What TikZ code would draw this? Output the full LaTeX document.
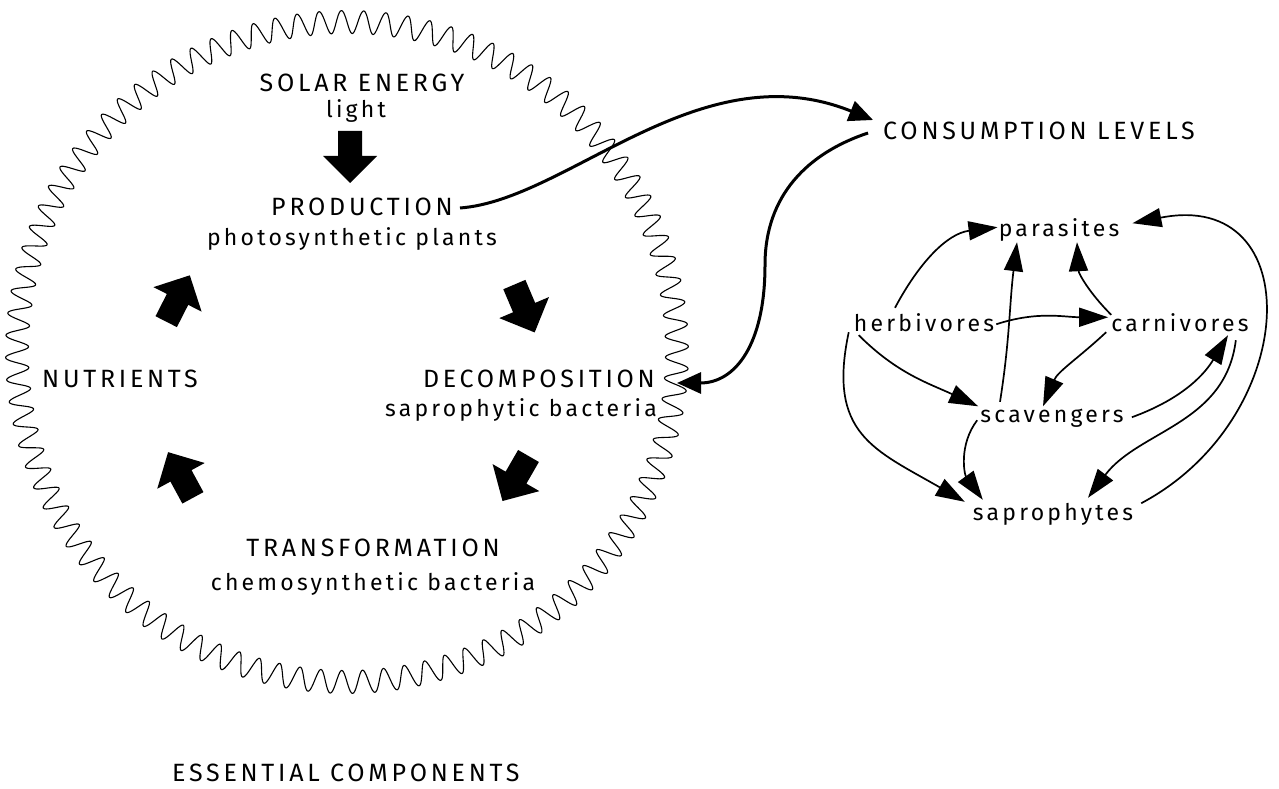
\documentclass[tikz,border=0pt]{standalone}
\usepackage{fontspec}
\setmainfont{Fira Sans}[LetterSpace=14]
\newfontfamily\capsf{Fira Sans}[LetterSpace=15]
\usetikzlibrary{arrows.meta}
\begin{document}
\begin{tikzpicture}[x=1pt,y=1pt,
  lbl/.style={font=\fontsize{23}{27}\selectfont, inner sep=0pt, text height=15.5pt, text depth=0pt, anchor=base},
  capl/.style={font=\capsf\fontsize{25}{30}\selectfont, inner sep=0pt, text height=16pt, text depth=0pt, anchor=base},
  wavyline/.style={line width=1.1pt, line join=round},
  bigarrow/.style={line width=3pt, -{Triangle[length=24pt,width=21pt]}},
  linkarrow/.style={line width=1.7pt, -{Triangle[length=29pt,width=19pt]}},
  blockarrow/.pic={\fill (-26,-12) -- (-1,-12) -- (-1,-27) -- (26,0) -- (-1,27) -- (-1,12) -- (-26,12) -- cycle;}
]
\useasboundingbox (0,0) rectangle (1279,788);
\fill[white] (0,0) rectangle (1279,788);

% wavy circle
\draw[wavyline] plot[domain=0:1920, samples=1921, variable=\k]
  ({347+(330+11.5*sin(18*mod(\k,20)))*cos(0.1875*\k)}, {436+(330+11.5*sin(18*mod(\k,20)))*sin(0.1875*\k)});

% left texts
\node[capl] (solar) at (362,696) {SOLAR ENERGY};
\node[lbl] (light) at (356,670) {light};
\node[capl] (prod)  at (362,572) {PRODUCTION};
\node[lbl] (photo) at (352,542) {photosynthetic plants};
\node[capl, anchor=base west] (nutr) at (42,400) {NUTRIENTS};
\node[capl, anchor=base east] (dec) at (655,400) {DECOMPOSITION};
\node[lbl, anchor=base east] (sapb) at (657,371) {saprophytic bacteria};
\node[capl] (trans) at (373,232) {TRANSFORMATION};
\node[lbl] (chemo) at (373,198) {chemosynthetic bacteria};
\node[capl, anchor=base west] (ess) at (172,7) {ESSENTIAL COMPONENTS};

% block arrows
\pic[rotate=-90] at (350,631) {blockarrow};
\pic[rotate=63] at (178,489.5) {blockarrow};
\pic[rotate=-67] at (524.5,479.5) {blockarrow};
\pic[rotate=118.5] at (180.5,313) {blockarrow};
\pic[rotate=-120] at (515.5,309.5) {blockarrow};

% right texts
\node[capl, anchor=base west] (cons) at (883,648) {CONSUMPTION LEVELS};
\node[lbl] (par)  at (1059,551) {parasites};
\node[lbl] (herb) at (924,456)  {herbivores};
\node[lbl] (carn) at (1180,456) {carnivores};
\node[lbl] (scav) at (1052,366) {scavengers};
\node[lbl] (sap)  at (1053,268) {saprophytes};

% big connectors
\draw[bigarrow] ([xshift=7pt]prod.east) .. controls +(108,8) and +(-173,70) .. ([shift={(-10,12)}]cons.west);
\draw[bigarrow] ([shift={(-15,-1)}]cons.west) .. controls +(-60,-20) and +(0,70) .. (765,523)
  .. controls +(0,-80) and +(58,0) .. ([shift={(22,-3)}]dec.east);

% consumption graph
\draw[linkarrow] ([shift={(-29,8.5)}]herb.north) to[out=62,in=187] ([shift={(-1,2)}]par.west);
\draw[linkarrow] ([shift={(2,0)}]herb.east) to[out=18,in=180] ([shift={(-3,7)}]carn.west);
\draw[linkarrow] ([shift={(-52,4.5)}]scav.north) to[out=81,in=-97] ([shift={(-42,-5)}]par.south);
\draw[linkarrow] ([shift={(0,1.5)}]carn.north west) to[out=135,in=-87] ([shift={(18,-5)}]par.south);
\draw[linkarrow] ([shift={(-5,0)}]carn.south west) to[out=-137,in=67] ([shift={(-9,0)}]scav.north);
\draw[linkarrow] ([shift={(5,-3)}]herb.south west) to[out=-45,in=155] ([shift={(-2,0)}]scav.north west);
\draw[linkarrow] ([shift={(-5,0)}]herb.south west) to[out=-102,in=150,looseness=1.3] ([shift={(-8,2.5)}]sap.north west);
\draw[linkarrow] ([shift={(-3,-6)}]scav.west) to[out=-127,in=126] ([shift={(10,4.5)}]sap.north west);
\draw[linkarrow] ([shift={(8,-3)}]scav.east) to[out=20,in=-121] ([shift={(48,-3)}]carn.south);
\draw[linkarrow] ([shift={(-13,-8)}]carn.south east) to[out=-97,in=53] ([shift={(35,6.5)}]sap.north);
\draw[linkarrow] ([shift={(8,9)}]sap.east) .. controls +(160,85) and +(177,35) .. ([shift={(13,6)}]par.east);
\end{tikzpicture}
\end{document}
